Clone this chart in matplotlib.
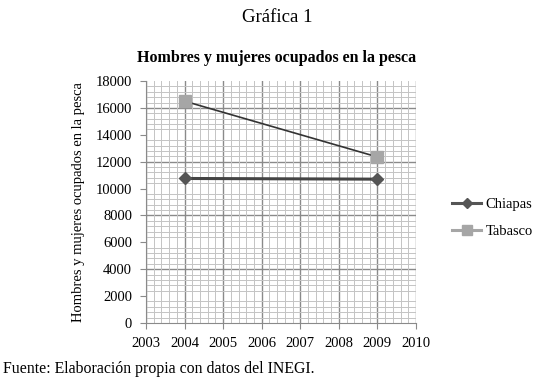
import matplotlib
matplotlib.use("Agg")
import matplotlib.pyplot as plt
from matplotlib.lines import Line2D
from matplotlib.ticker import MultipleLocator

plt.rcParams['font.family'] = ['Liberation Serif', 'DejaVu Serif']

years = [2004, 2009]
chiapas = [10750, 10700]
tabasco = [16500, 12350]
series_names = ["Chiapas", "Tabasco"]

fig = plt.figure(figsize=(5.42, 3.8), dpi=100)
ax = fig.add_axes([146/542, 1-323/380, (416-146)/542, (323-81)/380])

ax.set_xlim(2003, 2010)
ax.set_ylim(0, 18000)
ax.xaxis.set_major_locator(MultipleLocator(1))
ax.xaxis.set_minor_locator(MultipleLocator(0.2))
ax.yaxis.set_major_locator(MultipleLocator(2000))
ax.yaxis.set_minor_locator(MultipleLocator(400))

ax.grid(which='minor', color='#c4c4c4', linewidth=0.7)
ax.grid(which='major', axis='x', color='#8a8a8a', linewidth=1.0)
for v in range(4000, 18000, 4000):
    ax.axhline(v, color='#8a8a8a', linewidth=1.0, zorder=0.5)
ax.set_axisbelow(True)

for s in ['top', 'right']:
    ax.spines[s].set_visible(False)
for s in ['left', 'bottom']:
    ax.spines[s].set_color('#8a8a8a')
ax.tick_params(which='major', length=4, color='#8a8a8a', labelsize=10.5, pad=6)
ax.tick_params(which='minor', length=0)

ax.plot(years, chiapas, color='#444444', linewidth=2.2, marker='D', markersize=6,
        markerfacecolor='#555555', markeredgecolor='#555555', zorder=3)
ax.plot(years, tabasco, color='#333333', linewidth=1.2, marker='s', markersize=9,
        markerfacecolor='#a6a6a6', markeredgecolor='#a6a6a6', zorder=3)

handles = [
    Line2D([], [], color='#555555', linewidth=2.2, marker='D', markersize=5,
           markerfacecolor='#555555', markeredgecolor='#555555'),
    Line2D([], [], color='#a6a6a6', linewidth=2.2, marker='s', markersize=7,
           markerfacecolor='#a6a6a6', markeredgecolor='#a6a6a6'),
]
fig.legend(handles, series_names, loc='center left', bbox_to_anchor=(452/542, 1-218/380),
           frameon=False, fontsize=10.5, handlelength=2.0, handletextpad=0.3,
           labelspacing=0.9, borderpad=0, borderaxespad=0)

ax.set_ylabel("Hombres y mujeres ocupados en la pesca", fontsize=10.5, labelpad=8)

fig.text(277/542, 1-17/380, "Gráfica 1", ha='center', va='center', fontsize=13.5)
fig.text(277/542, 1-58/380, "Hombres y mujeres ocupados en la pesca", ha='center',
         va='center', fontsize=11.5, fontweight='bold')
fig.text(3/542, 1-369/380, "Fuente: Elaboración propia con datos del INEGI.",
         ha='left', va='center', fontsize=11.4)

fig.savefig("out.png", dpi=100)
